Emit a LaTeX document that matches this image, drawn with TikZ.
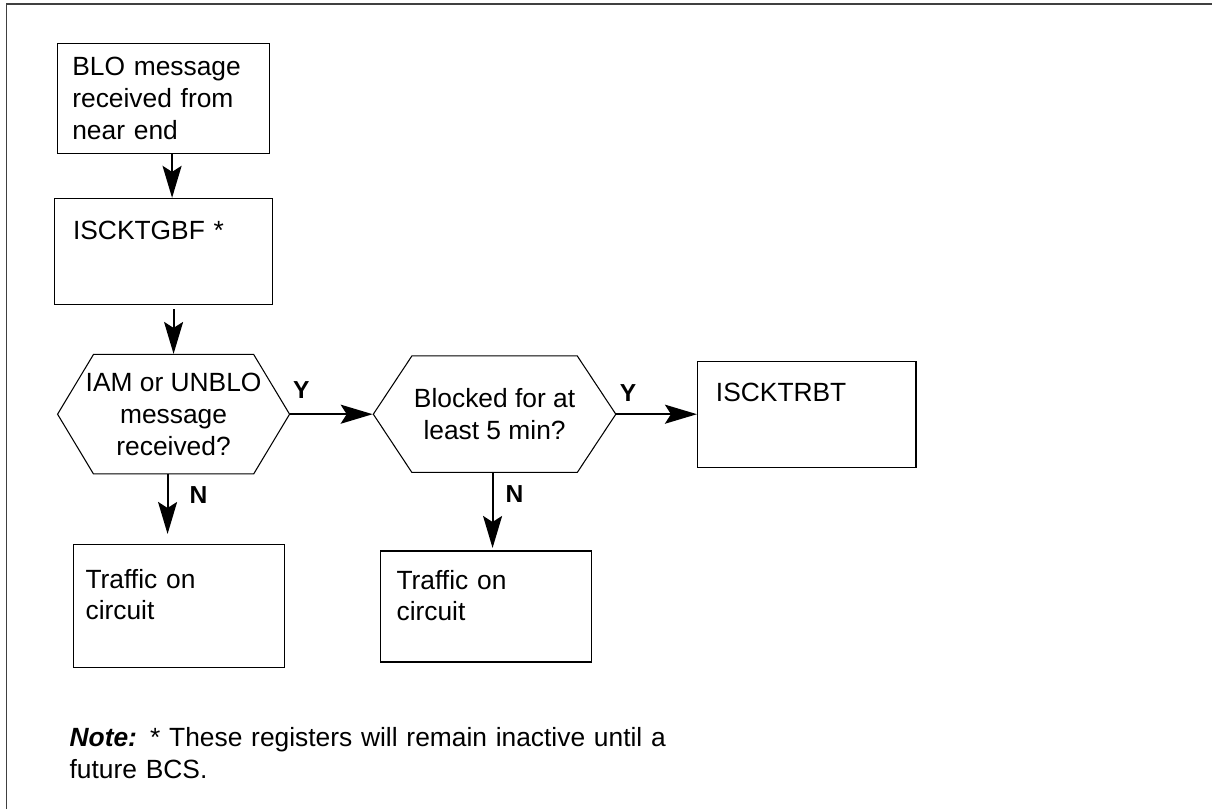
\documentclass[tikz,border=0pt]{standalone}
\usepackage{fontspec}
\setmainfont{Liberation Sans}
\usepackage{tikz}
\usetikzlibrary{arrows.meta,positioning,shapes.symbols}
\newcommand{\bodyfont}{\fontsize{15}{18.2}\selectfont}
\newcommand{\ynfont}{\fontsize{14}{16}\selectfont\bfseries}

\begin{document}
\begin{tikzpicture}[
  procbox/.style={rectangle, draw, line width=0.6pt, align=left, inner ysep=0pt,
    inner xsep=0.3cm, text width=3.65cm, text height=0.8cm, text depth=1.32cm, font=\bodyfont},
  decision/.style={signal, signal to=east and west, draw, line width=0.6pt, align=center,
    inner xsep=-0.2cm, font=\bodyfont},
  arr/.style={-{Stealth[length=0.64cm, width=0.38cm, inset=0.12cm]}, line width=1.1pt},
  yn/.style={font=\ynfont, inner sep=0pt},
]
  \useasboundingbox (0,0) rectangle (24.24,-16.18);
  % page frame, top and left edge only
  \draw[line width=0.9pt, black!75] (0.134,-16.18) -- (0.134,-0.08) -- (24.24,-0.08);

  \node[procbox, anchor=north west, inner xsep=0.29cm, text width=3.65cm, text height=0.63cm, text depth=1.57cm] (blo) at (1.146,-0.866) {BLO message\\received from\\near end};
  \node[procbox, below=0.87cm of blo, inner xsep=0.37cm, text width=3.62cm, text height=0.82cm, text depth=1.31cm] (gbf) {ISCKTGBF *};
  \node[decision, below=0.97cm of gbf, xshift=0.2cm, minimum width=4.64cm, minimum height=2.39cm, signal pointer angle=118] (iam) {IAM or UNBLO\\message\\received?};
  \node[decision, right=1.65cm of iam, minimum width=4.85cm, minimum height=2.33cm, signal pointer angle=113] (blk) {Blocked for at\\least 5 min?};
  \node[procbox, right=1.61cm of blk, inner xsep=0.37cm, text width=3.63cm] (rbt) {ISCKTRBT};
  \node[procbox, below=1.39cm of iam, xshift=0.1cm, inner xsep=0.25cm, text width=3.72cm, text height=0.87cm, text depth=1.59cm] (trf1) {Traffic on\\circuit};
  \node[procbox, below=1.55cm of blk, xshift=-0.17cm, inner xsep=0.32cm, text width=3.58cm, text height=0.76cm, text depth=1.46cm] (trf2) {Traffic on\\circuit};

  \draw[arr] ([xshift=0.17cm]blo.south) -- ([xshift=0.17cm]blo.south |- gbf.north);
  \draw[arr, shorten <=0.08cm] (iam.north |- gbf.south) -- (iam.north);
  \draw[arr] (iam.east) -- node[yn, pos=0, anchor=south west, xshift=0.04cm, yshift=0.3cm] {Y} (iam.east -| blk.west);
  \draw[arr] (blk.east) -- node[yn, pos=0, anchor=south west, xshift=0.05cm, yshift=0.24cm] {Y} (blk.east -| rbt.west);
  \draw[arr, shorten >=0.2cm] ([xshift=-0.12cm]iam.south) -- node[yn, pos=0, anchor=north west, xshift=0.42cm, yshift=-0.22cm] {N} ([xshift=-0.12cm]iam.south |- trf1.north);
  \draw[arr, shorten >=0.05cm] ([xshift=-0.04cm]blk.south) -- node[yn, pos=0, anchor=north west, xshift=0.24cm, yshift=-0.23cm] {N} ([xshift=-0.04cm]blk.south |- trf2.north);

  \node[anchor=base west, inner sep=0pt, text width=13cm, align=left, font=\bodyfont] (note) at (1.386,-14.934) {\textbf{\textit{Note:}} * These registers will remain inactive until a\\future BCS.};
\end{tikzpicture}
\end{document}
